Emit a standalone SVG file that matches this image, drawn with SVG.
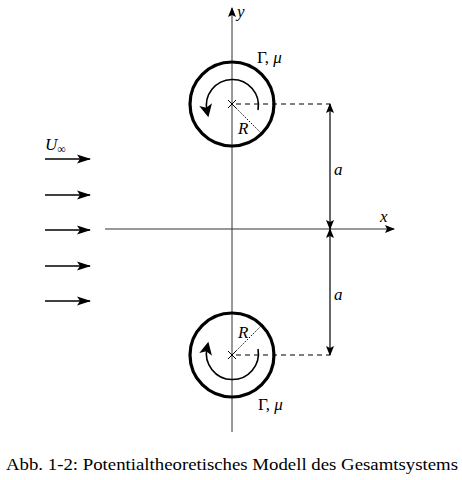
<svg xmlns="http://www.w3.org/2000/svg" width="462" height="480" viewBox="0 0 462 480">
<defs>
<marker id="ah" viewBox="0 0 10 10" refX="9" refY="5" markerWidth="10" markerHeight="10" markerUnits="userSpaceOnUse" orient="auto">
<path d="M0,1 L10,5 L0,9 L2,5 Z" fill="#000"/>
</marker>
<marker id="flow" viewBox="0 0 14 10" refX="13" refY="5" markerWidth="14" markerHeight="10" markerUnits="userSpaceOnUse" orient="auto">
<path d="M0,0.5 L14,5 L0,9.5 L3,5 Z" fill="#000"/>
</marker>
<marker id="rot" viewBox="0 0 12 12" refX="6" refY="6" markerWidth="13" markerHeight="13" markerUnits="userSpaceOnUse" orient="auto">
<path d="M0,0 L12,6 L0,12 L3,6 Z" fill="#000"/>
</marker>
</defs>
<style>
.axis{stroke:#333;stroke-width:1;fill:none}
.dash{stroke:#000;stroke-width:1.2;stroke-dasharray:5,4;fill:none}
.dot{stroke:#000;stroke-width:1;stroke-dasharray:1.5,1.5;fill:none}
.circ{stroke:#000;stroke-width:3.2;fill:none}
.arc{stroke:#000;stroke-width:1.6;fill:none}
.flow{stroke:#000;stroke-width:1.6;fill:none}
.dim{stroke:#000;stroke-width:1.2;fill:none}
text{font-family:"Liberation Serif","DejaVu Serif",serif;fill:#000}
.it{font-style:italic}
</style>
<g id="connectors">
<line class="axis" x1="232" y1="432" x2="232" y2="8" marker-end="url(#ah)"/>
<line class="axis" x1="105" y1="229" x2="394" y2="229" marker-end="url(#ah)"/>
<line class="dash" x1="236" y1="104" x2="330" y2="104"/>
<line class="dash" x1="236" y1="355" x2="330" y2="355"/>
<line class="dim" x1="330" y1="167" x2="330" y2="104" marker-end="url(#ah)"/>
<line class="dim" x1="330" y1="167" x2="330" y2="229" marker-end="url(#ah)"/>
<line class="dim" x1="330" y1="292" x2="330" y2="229" marker-end="url(#ah)"/>
<line class="dim" x1="330" y1="292" x2="330" y2="355" marker-end="url(#ah)"/>
<line class="flow" x1="45" y1="159" x2="90" y2="159" marker-end="url(#flow)"/>
<line class="flow" x1="45" y1="195" x2="90" y2="195" marker-end="url(#flow)"/>
<line class="flow" x1="45" y1="230" x2="90" y2="230" marker-end="url(#flow)"/>
<line class="flow" x1="45" y1="266" x2="90" y2="266" marker-end="url(#flow)"/>
<line class="flow" x1="45" y1="301" x2="90" y2="301" marker-end="url(#flow)"/>
</g>
<g id="vortex-top">
<circle class="circ" cx="232" cy="104" r="42"/>
<path class="arc" d="M258,110 A26,26 0 1 0 207,111" marker-end="url(#rot)"/>
<path d="M228,100 L236,108 M236,100 L228,108" stroke="#000" stroke-width="1"/>
<line class="dot" x1="232" y1="104" x2="262" y2="134"/>
<text class="it" x="238" y="134" font-size="17">R</text>
<text x="257" y="63" font-size="17">Γ, <tspan class="it">μ</tspan></text>
</g>
<g id="vortex-bottom">
<circle class="circ" cx="232" cy="355" r="42"/>
<path class="arc" d="M258,349 A26,26 0 1 1 207,348" marker-end="url(#rot)"/>
<path d="M228,351 L236,359 M236,351 L228,359" stroke="#000" stroke-width="1"/>
<line class="dot" x1="232" y1="355" x2="262" y2="325"/>
<text class="it" x="238" y="338" font-size="17">R</text>
<text x="258" y="410" font-size="17">Γ, <tspan class="it">μ</tspan></text>
</g>
<g id="labels">
<text class="it" x="237" y="17" font-size="17">y</text>
<text class="it" x="380" y="222" font-size="17">x</text>
<text class="it" x="334" y="175" font-size="17">a</text>
<text class="it" x="334" y="300" font-size="17">a</text>
<text x="45" y="150" font-size="17"><tspan class="it">U</tspan><tspan font-size="12" dy="3">∞</tspan></text>
<text x="6" y="470" font-size="17" textLength="452" lengthAdjust="spacingAndGlyphs">Abb. 1-2: Potentialtheoretisches Modell des Gesamtsystems</text>
</g>
</svg>
